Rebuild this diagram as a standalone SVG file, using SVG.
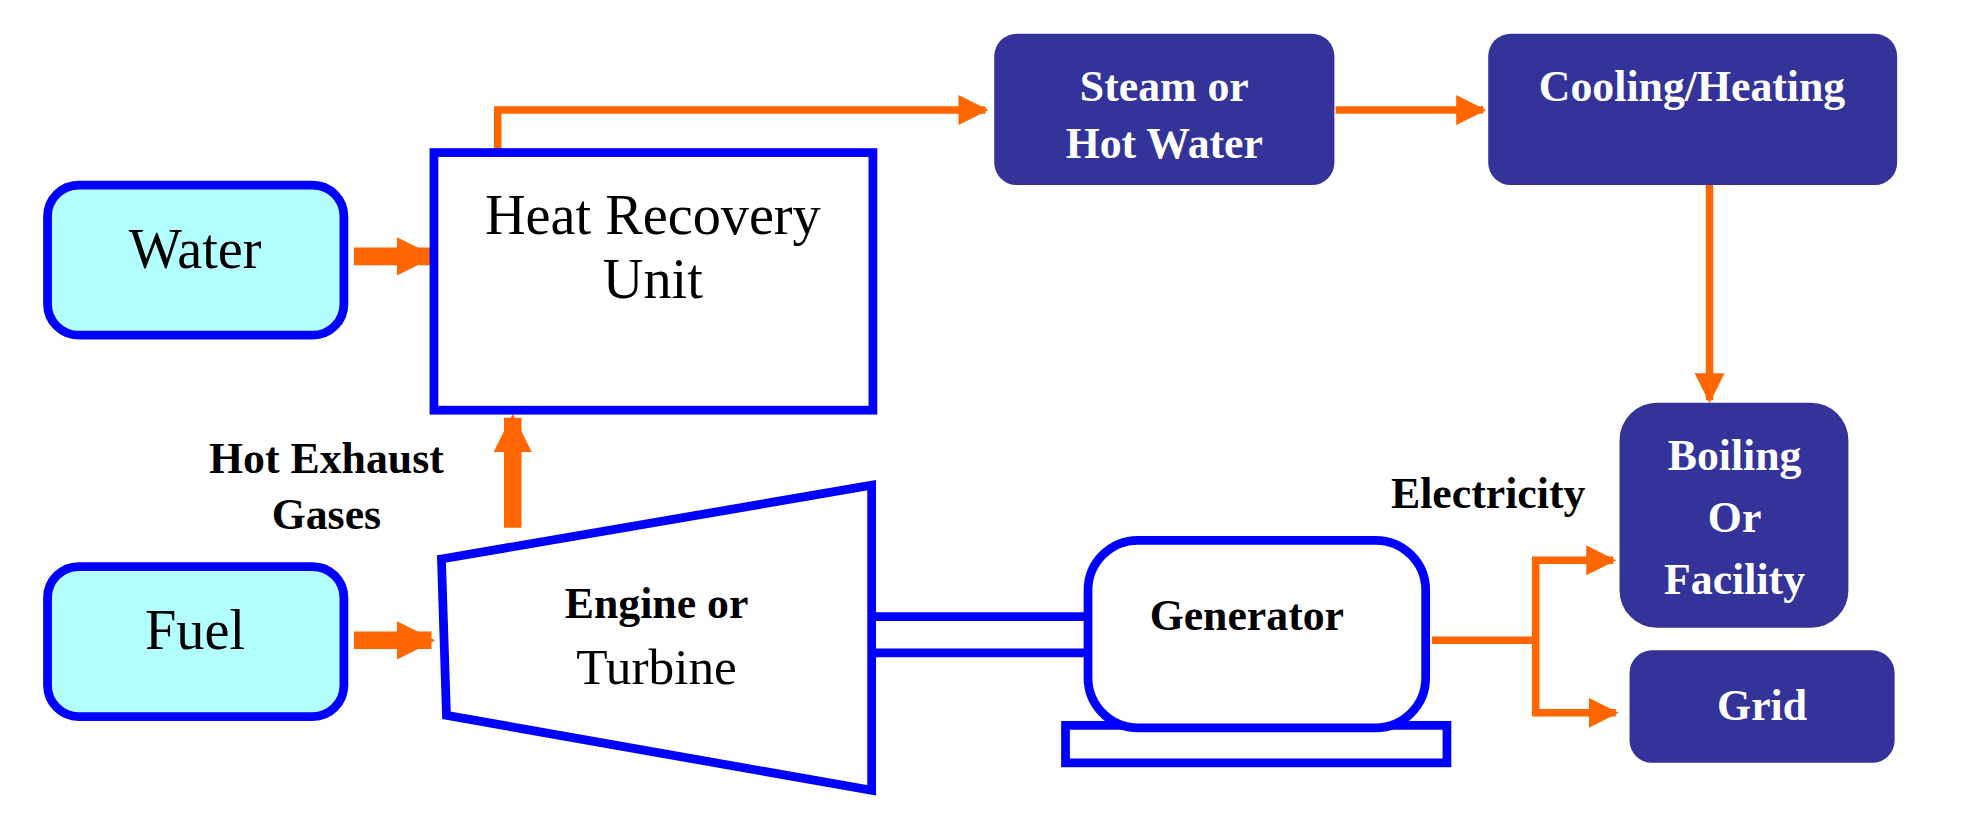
<svg xmlns="http://www.w3.org/2000/svg" width="1961" height="825" viewBox="0 0 1961 825">
<style>
.in{fill:#b3ffff;stroke:#0000ff;stroke-width:7}
.ol{fill:#fff;stroke:#0000ff;stroke-width:7}
.dk{fill:#333399}
.ln{fill:none;stroke:#ff6600;stroke-width:6}
.fat{fill:none;stroke:#ff6600;stroke-width:14}
text{font-family:"Liberation Serif",serif;text-anchor:middle}
.r{font-size:45px;fill:#000}
.b{font-size:35px;font-weight:bold;fill:#000}
.w{font-size:35px;font-weight:bold;fill:#fff}
</style>
<defs>
<marker id="a" viewBox="0 0 10 10" refX="9" refY="5" markerWidth="4" markerHeight="4" orient="auto" markerUnits="strokeWidth"><path d="M0,0L10,5L0,10z" fill="#ff6600"/></marker>
<marker id="f" viewBox="0 0 10 10" refX="9" refY="5" markerWidth="2.2" markerHeight="3" orient="auto" markerUnits="strokeWidth"><path d="M0,0L10,5L0,10z" fill="#ff6600"/></marker>
</defs>
<rect width="1961" height="825" fill="#fff"/>
<g transform="scale(1.2506)">
<g id="connectors">
<path class="ln" d="M398,122V88H788" marker-end="url(#a)"/>
<path class="ln" d="M1068,88H1186" marker-end="url(#a)"/>
<path class="ln" d="M1367,148V320" marker-end="url(#a)"/>
<path class="fat" d="M283,205H345" marker-end="url(#f)"/>
<path class="fat" d="M283,512H345" marker-end="url(#f)"/>
<path class="fat" d="M410,422V334" marker-end="url(#f)"/>
<path class="ln" d="M1145,512H1228"/>
<path class="ln" d="M1228,448V570"/>
<path class="ln" d="M1225,448H1290" marker-end="url(#a)"/>
<path class="ln" d="M1225,570H1292" marker-end="url(#a)"/>
<path d="M697,493H870M697,522H870" stroke="#0000ff" stroke-width="7"/>
</g>
<g id="water"><rect class="in" x="38" y="148" width="237" height="120" rx="25"/><text class="r" x="156" y="214">Water</text></g>
<g id="fuel"><rect class="in" x="38" y="453" width="237" height="120" rx="25"/><text class="r" x="156" y="519">Fuel</text></g>
<g id="hru"><rect class="ol" x="347" y="122" width="351" height="206"/><text class="r" x="522" y="187">Heat Recovery</text><text class="r" x="522" y="238">Unit</text></g>
<g id="exhaust"><text class="b" x="261" y="378">Hot Exhaust</text><text class="b" x="261" y="423">Gases</text></g>
<g id="engine"><polygon class="ol" points="353,447 697,388 697,632 357,572"/><text class="b" x="525" y="494">Engine or</text><text class="r" x="525" y="547" style="font-size:41px">Turbine</text></g>
<g id="generator"><rect class="ol" x="852" y="580" width="305" height="30"/><rect class="ol" x="870" y="432" width="270" height="150" rx="40"/><text class="b" x="997" y="504">Generator</text></g>
<g id="electricity"><text class="b" x="1190" y="406">Electricity</text></g>
<g id="steam"><rect class="dk" x="795" y="27" width="272" height="121" rx="18"/><text class="w" x="931" y="81">Steam or</text><text class="w" x="931" y="126">Hot Water</text></g>
<g id="cooling"><rect class="dk" x="1190" y="27" width="327" height="121" rx="18"/><text class="w" x="1353" y="81">Cooling/Heating</text></g>
<g id="boiling"><rect class="dk" x="1295" y="322" width="183" height="180" rx="30"/><text class="w" x="1387" y="376">Boiling</text><text class="w" x="1387" y="425">Or</text><text class="w" x="1387" y="475">Facility</text></g>
<g id="grid"><rect class="dk" x="1303" y="520" width="212" height="90" rx="18"/><text class="w" x="1409" y="576">Grid</text></g>
</g>
</svg>
